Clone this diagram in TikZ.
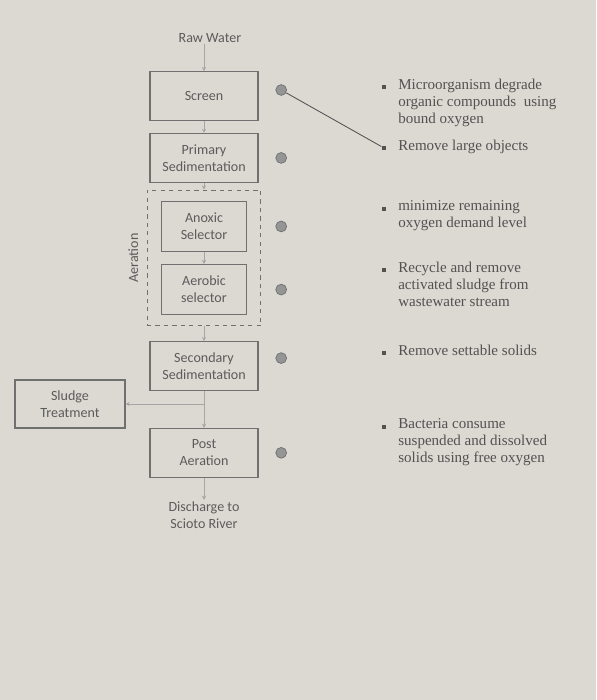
\documentclass[tikz,border=0pt]{standalone}
\usepackage{fontspec}
\setmainfont{Liberation Serif}
\newfontfamily\boxfont{Carlito}
\usetikzlibrary{positioning,fit,arrows.meta}

\definecolor{paper}{HTML}{DCD8D2}
\definecolor{ink}{HTML}{5C5C5C}
\definecolor{noteink}{HTML}{525252}
\definecolor{frame}{HTML}{707070}
\definecolor{flowgrey}{HTML}{A6A6A6}
\definecolor{dotgrey}{HTML}{959595}

\tikzset{
  stage/.style={draw=frame, line width=0.8pt, text=ink, font=\boxfont,
    align=center, minimum width=2.7cm, minimum height=1.22cm},
  smallstage/.style={stage, minimum width=2.12cm, minimum height=1.25cm},
  label/.style={text=ink, font=\boxfont, align=center, inner sep=1pt},
  flow/.style={draw=flowgrey, line width=0.6pt, -{Stealth[length=3pt,width=3pt]}},
  marker/.style={circle, fill=dotgrey, draw=frame, line width=0.5pt,
    minimum size=0.27cm, inner sep=0pt},
  bullet/.style={rectangle, fill=noteink, minimum size=0.12cm, inner sep=0pt},
  note/.style={text=noteink, font=\fontsize{10.7}{12}\selectfont,
    align=left, inner sep=0pt, anchor=north west},
}

\begin{document}
\begin{tikzpicture}
  \useasboundingbox (0,0) rectangle (14.9,-17.5);
  \fill[paper] (0,0) rectangle (14.9,-17.5);

  % main process column
  \node[label] (raw) at (5.25,-0.95) {Raw Water};
  \node[stage] (screen) at (5.1,-2.4) {Screen};
  \node[stage, below=0.3cm of screen] (primary) {Primary\\Sedimentation};
  \node[smallstage, below=0.45cm of primary] (anoxic) {Anoxic\\Selector};
  \node[smallstage, below=0.3cm of anoxic] (aerobic) {Aerobic\\selector};
  \node[draw=frame, dashed, line width=0.7pt, inner xsep=0.35cm, inner ysep=0.27cm,
    fit=(anoxic)(aerobic)] (aerbox) {};
  \node[label, rotate=90, anchor=south, inner sep=0.2cm] (aertext) at (aerbox.west) {Aeration};
  \node[stage, below=0.65cm of aerobic] (secondary) {Secondary\\Sedimentation};
  \node[stage, below=0.92cm of secondary] (post) {Post\\Aeration};
  \node[label, below=0.55cm of post] (discharge) {Discharge to\\Scioto River};
  \node[stage, minimum width=2.75cm, minimum height=1.2cm] (sludge) at (1.75,-10.1) {Sludge\\Treatment};

  \coordinate (split) at (secondary.south |- sludge.east);

  \draw[flow] (raw.south -| screen.north) -- (screen.north);
  \draw[flow] (screen) -- (primary);
  \draw[flow] (primary) -- (aerbox.north);
  \draw[flow] (anoxic) -- (aerobic);
  \draw[flow] (aerbox.south) -- (secondary);
  \draw[flow] (secondary) -- (post);
  \draw[flow] (split) -- (sludge.east);
  \draw[flow] (post) -- (discharge);

  % markers
  \coordinate (dotcol) at (7.03,0);
  \node[marker, yshift=0.15cm] (m1) at (screen -| dotcol) {};
  \node[marker] (m2) at (primary -| dotcol) {};
  \node[marker] (m3) at (anoxic -| dotcol) {};
  \node[marker] (m4) at (aerobic -| dotcol) {};
  \node[marker, yshift=0.2cm] (m5) at (secondary -| dotcol) {};
  \node[marker] (m6) at (post -| dotcol) {};

  % notes
  \node[bullet] (b1) at (9.6,-2.175) {};
  \node[bullet] (b2) at (9.6,-3.7) {};
  \node[bullet] (b3) at (9.6,-5.225) {};
  \node[bullet] (b4) at (9.6,-6.75) {};
  \node[bullet] (b5) at (9.6,-8.825) {};
  \node[bullet] (b6) at (9.6,-10.675) {};

  \node[note] (n1) at ([shift={(0.35cm,0.21cm)}]b1) {Microorganism degrade\\organic compounds\ \ using\\bound oxygen};
  \node[note] (n2) at ([shift={(0.35cm,0.21cm)}]b2) {Remove large objects};
  \node[note] (n3) at ([shift={(0.35cm,0.21cm)}]b3) {minimize remaining\\oxygen demand level};
  \node[note] (n4) at ([shift={(0.35cm,0.21cm)}]b4) {Recycle and remove\\activated sludge from\\wastewater stream};
  \node[note] (n5) at ([shift={(0.35cm,0.21cm)}]b5) {Remove settable solids};
  \node[note] (n6) at ([shift={(0.35cm,0.21cm)}]b6) {Bacteria consume\\suspended and dissolved\\solids using free oxygen};

  \draw[noteink, line width=0.6pt] (m1) -- (b2);
\end{tikzpicture}
\end{document}
